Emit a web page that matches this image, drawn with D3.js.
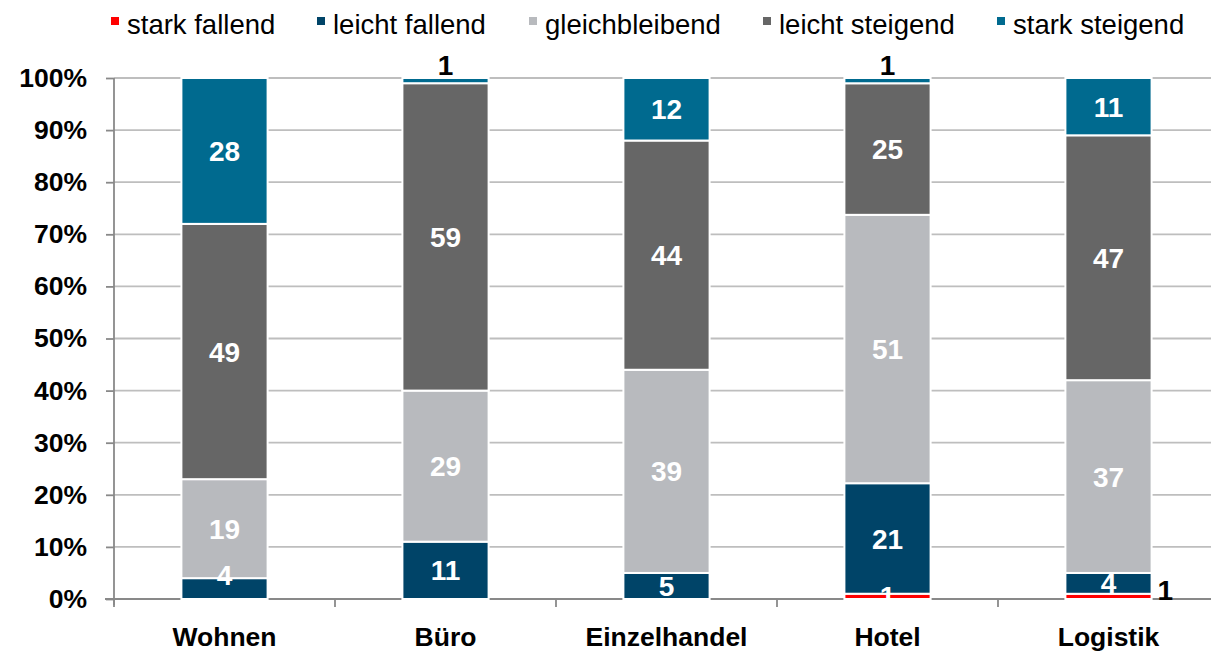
<!DOCTYPE html>
<html><head><meta charset="utf-8">
<script src="https://cdn.jsdelivr.net/npm/d3@7"></script>
<style>body{margin:0;background:#fff}svg{display:block;font-family:"Liberation Sans",Arial,sans-serif}</style>
</head><body><svg id="c" width="1211" height="655"></svg>
<script>
const categories = ["Wohnen","Büro","Einzelhandel","Hotel","Logistik"];
const seriesNames = ["stark fallend","leicht fallend","gleichbleibend","leicht steigend","stark steigend"];
const starkFallend   = [0, 0, 0, 1, 1];
const leichtFallend  = [4, 11, 5, 21, 4];
const gleichbleibend = [19, 29, 39, 51, 37];
const leichtSteigend = [49, 59, 44, 25, 47];
const starkSteigend  = [28, 1, 12, 1, 11];
const yTicks = [0,0.1,0.2,0.3,0.4,0.5,0.6,0.7,0.8,0.9,1];
const colors = ["#FF0000","#004468","#B8BABE","#666666","#006A8F"];

const seriesVals = [starkFallend, leichtFallend, gleichbleibend, leichtSteigend, starkSteigend];
const rows = categories.map((c,i)=>{
  const r = {cat:c}; let tot=0;
  seriesNames.forEach((s,k)=>{ r[s]=seriesVals[k][i]; tot+=seriesVals[k][i]; });
  seriesNames.forEach(s=>{ r[s+"_p"]=r[s]/tot; });
  return r;
});
const stack = d3.stack().keys(seriesNames.map(s=>s+"_p"));
const stacked = stack(rows);

const svg = d3.select("#c");
const x = d3.scaleBand().domain(categories).range([114,1219]).paddingInner(0.61).paddingOuter(0.305);
const y = d3.scaleLinear().domain([0,1]).range([599,78]);

// gridlines
svg.append("g").selectAll("line").data(yTicks.filter(t=>t>0)).join("line")
  .attr("x1",114).attr("x2",1211).attr("y1",d=>y(d)).attr("y2",d=>y(d))
  .attr("stroke","#BEBEBE").attr("stroke-width",1.8);

// y axis
const ya = svg.append("g").attr("transform","translate(114,0)")
  .call(d3.axisLeft(y).tickValues(yTicks).tickFormat(d3.format(".0%")).tickSize(8).tickPadding(19));
ya.select(".domain").attr("stroke","#898989").attr("stroke-width",1.8).attr("d","M0,78V605");
ya.selectAll(".tick line").attr("stroke","#898989").attr("stroke-width",1.8);
ya.selectAll(".tick text").attr("font-size",26.5).attr("font-weight","bold").attr("fill","#000")
  .attr("font-family","'Liberation Sans',Arial,sans-serif");

// x axis
const xa = svg.append("g").attr("transform","translate(0,599)");
xa.append("line").attr("x1",105).attr("x2",1211).attr("y1",0).attr("y2",0).attr("stroke","#898989").attr("stroke-width",1.8);
const step = x.step();
const bounds = d3.range(categories.length+1).map(i=>114+i*step);
xa.selectAll("line.t").data(bounds).join("line").attr("class","t")
  .attr("x1",d=>d).attr("x2",d=>d).attr("y1",0).attr("y2",8).attr("stroke","#898989").attr("stroke-width",1.8);
xa.selectAll("text").data(categories).join("text")
  .attr("x",d=>x(d)+x.bandwidth()/2).attr("y",47).attr("text-anchor","middle")
  .attr("font-size",26.5).attr("font-weight","bold").text(d=>d);

// bars
const g = svg.append("g");
stacked.forEach((layer,k)=>{
  g.append("g").selectAll("rect").data(layer).join("rect")
    .attr("x",d=>x(d.data.cat)).attr("width",x.bandwidth())
    .attr("y",d=>y(d[1])).attr("height",d=>Math.max(0,y(d[0])-y(d[1])))
    .attr("fill",colors[k]).attr("stroke","#fff").attr("stroke-width",d=>d[1]-d[0]>0?2:0);
});

// labels
const lbl = svg.append("g").attr("font-size",28).attr("font-weight","bold").attr("text-anchor","middle");
stacked.forEach((layer,k)=>{
  layer.forEach((d,i)=>{
    const v = seriesVals[k][i];
    if(!v) return;
    const cx = x(d.data.cat)+x.bandwidth()/2;
    let cy = (y(d[0])+y(d[1]))/2;
    let fill = "#fff", tx = cx, anchor="middle";
    if(k===4 && v<3){ cy = y(1)-13; fill="#000"; }
    else if(k===0 && d.data.cat==="Logistik"){ tx = x(d.data.cat)+x.bandwidth()+6; anchor="start"; fill="#000"; cy = y(0)-9; }
    else if(k===1 && d.data.cat==="Wohnen"){ cy -= 14; }
    lbl.append("text").attr("x",tx).attr("y",cy).attr("dy","0.36em").attr("text-anchor",anchor)
      .attr("fill",fill).text(v);
  });
});

// legend
const legendX = [111,317,529,763,997];
const lg = svg.append("g");
seriesNames.forEach((s,k)=>{
  lg.append("rect").attr("x",legendX[k]).attr("y",17).attr("width",8).attr("height",8).attr("fill",colors[k]);
  lg.append("text").attr("x",legendX[k]+16).attr("y",34).attr("font-size",27.5).attr("fill","#000").text(s);
});
</script></body></html>
